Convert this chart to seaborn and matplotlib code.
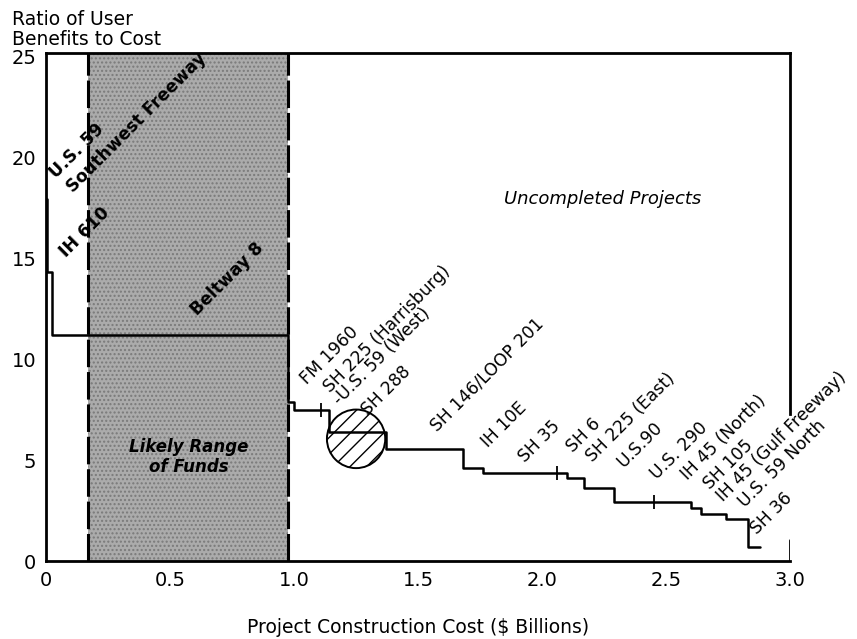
import numpy as np
import pandas as pd
import matplotlib
matplotlib.use('Agg')
import matplotlib.pyplot as plt
from matplotlib.patches import Ellipse
import seaborn as sns

# Cumulative construction cost ($ billions) where each step starts, and its benefit/cost ratio
step_cost = [0.0, 0.005, 0.025, 0.975, 1.0, 1.14, 1.37, 1.68, 1.76, 2.10, 2.17, 2.29, 2.60, 2.64, 2.74, 2.83, 2.88]
step_ratio = [17.9, 14.3, 11.2, 7.85, 7.5, 6.4, 5.55, 4.6, 4.35, 4.1, 3.6, 2.9, 2.65, 2.35, 2.1, 0.7, 0.7]

# Small division ticks drawn on the curve
div_cost = [1.11, 2.06, 2.45]
div_ratio = [7.5, 4.35, 2.9]

# Project names along the curve
projects = ['U.S. 59', 'Southwest Freeway', 'IH 610', 'Beltway 8',
            'FM 1960', 'SH 225 (Harrisburg)', '-U.S. 59 (West)', 'SH 288',
            'SH 146/LOOP 201', 'IH 10E', 'SH 35', 'SH 6', 'SH 225 (East)', 'U.S.90',
            'U.S. 290', 'IH 45 (North)', 'SH 105', 'IH 45 (Gulf Freeway)',
            'U.S. 59 North', 'SH 36']
bold_projects = ['U.S. 59', 'Southwest Freeway', 'IH 610', 'Beltway 8']

# Likely range of funds ($ billions)
funds_range = [0.17, 0.975]

xticks = [0, 0.5, 1.0, 1.5, 2.0, 2.5, 3.0]
xtick_labels = ['0', '0.5', '1.0', '1.5', '2.0', '2.5', '3.0']
yticks = [0, 5, 10, 15, 20, 25]

# label anchor positions (layout, data coords)
label_pos = [(0.040, 18.9), (0.108, 18.2), (0.080, 15.0), (0.609, 12.1),
             (1.052, 8.7), (1.145, 8.3), (1.185, 7.7), (1.298, 7.2),
             (1.577, 6.4), (1.782, 5.6), (1.931, 4.85), (2.125, 5.35), (2.202, 4.85), (2.327, 4.6),
             (2.464, 4.0), (2.585, 4.0), (2.677, 3.5), (2.730, 2.92),
             (2.819, 2.62), (2.867, 1.3)]

sns.set_style('white')
plt.rcParams['font.family'] = ['DejaVu Sans']
plt.rcParams['text.color'] = 'black'
plt.rcParams['axes.labelcolor'] = 'black'
plt.rcParams['xtick.color'] = 'black'
plt.rcParams['ytick.color'] = 'black'

fig = plt.figure(figsize=(8.57, 6.39), dpi=100)
ax = fig.add_axes([0.0537, 0.122, 0.8683, 0.795])

# shaded funding range
ax.axvspan(funds_range[0], funds_range[1], facecolor='#ababab', edgecolor='#7a7a7a',
           hatch='....', lw=0, zorder=0)
for xv in funds_range:
    ax.axvline(xv, color='black', lw=2.2, ls=(0, (9, 1.6)), zorder=2)

df = pd.DataFrame({'cost': step_cost, 'ratio': step_ratio})
sns.lineplot(data=df, x='cost', y='ratio', drawstyle='steps-post', color='black',
             lw=1.8, ax=ax, zorder=3)
ax.scatter(div_cost, div_ratio, marker='|', s=90, color='black', lw=1.3, zorder=3)

# hatched circle marking the uncertain projects
circ = Ellipse((1.25, 6.05), width=0.235, height=2.9, facecolor='none',
               edgecolor='black', hatch='//', lw=1.4, zorder=4)
ax.add_patch(circ)

for name, (px, py) in zip(projects, label_pos):
    weight = 'bold' if name in bold_projects else 'normal'
    ax.text(px, py, name, rotation=45, rotation_mode='anchor', ha='left', va='baseline',
            fontsize=12.3, fontweight=weight, color='black', zorder=5)

ax.text(2.242, 17.9, 'Uncompleted Projects', fontsize=13, style='italic',
        ha='center', va='center')
ax.text(0.577, 5.15, 'Likely Range\nof Funds', fontsize=12, style='italic',
        fontweight='bold', ha='center', va='center', linespacing=1.15)

ax.set_xlim(0, 3.0)
ax.set_ylim(0, 25.15)
ax.set_xticks(xticks)
ax.set_xticklabels(xtick_labels)
ax.set_yticks(yticks)
ax.tick_params(direction='in', length=7, width=1.5, labelsize=14, color='black')
ax.tick_params(axis='x', pad=7)
ax.tick_params(axis='y', pad=7)

for side in ['left', 'bottom', 'top', 'right']:
    ax.spines[side].set_color('black')
    ax.spines[side].set_linewidth(2)
ax.spines['right'].set_bounds(7.3, 25.15)
ax.axvline(3.0, ymin=0, ymax=0.042, color='black', lw=2)

ax.set_xlabel('Project Construction Cost ($ Billions)', fontsize=13.5, labelpad=20)
ax.set_ylabel('')
fig.text(0.014, 0.985, 'Ratio of User\nBenefits to Cost', fontsize=13.5, ha='left', va='top',
         linespacing=1.1)

fig.savefig('out.png', dpi=100)
